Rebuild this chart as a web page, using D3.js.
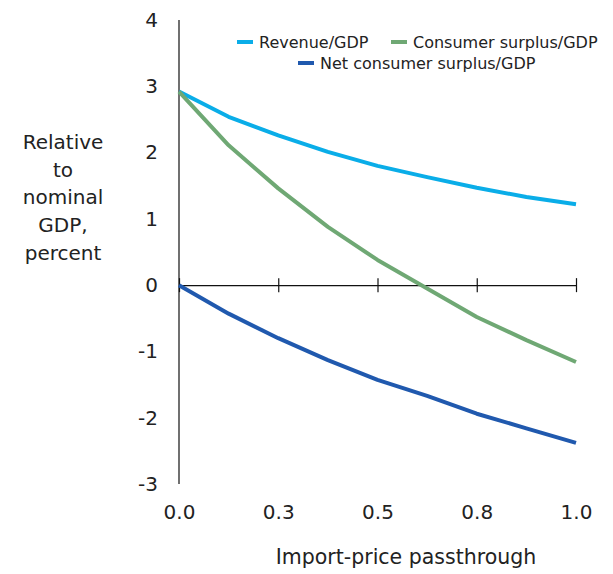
<!DOCTYPE html>
<html>
<head>
<meta charset="utf-8">
<script src="https://cdn.jsdelivr.net/npm/d3@7"></script>
<style>
  html, body { margin: 0; padding: 0; background: #fff; }
  text { font-family: "DejaVu Sans", sans-serif; fill: #222; }
</style>
</head>
<body>
<svg id="chart" width="613" height="574"></svg>
<script>
// ---- data ----
const passthrough = [0, 0.125, 0.25, 0.375, 0.5, 0.625, 0.75, 0.875, 1.0];
const revenue = [2.92, 2.54, 2.26, 2.01, 1.80, 1.63, 1.47, 1.33, 1.22];
const consumerSurplus = [2.92, 2.11, 1.46, 0.88, 0.38, -0.05, -0.48, -0.83, -1.16];
const netConsumerSurplus = [0, -0.43, -0.80, -1.13, -1.43, -1.67, -1.94, -2.16, -2.38];
const seriesNames = ["Revenue/GDP", "Consumer surplus/GDP", "Net consumer surplus/GDP"];
const seriesColors = ["#0AADE8", "#6FA874", "#2059AE"];
const xTickValues = [0, 0.25, 0.5, 0.75, 1.0];
const xTickLabels = ["0.0", "0.3", "0.5", "0.8", "1.0"];
const yTickValues = [-3, -2, -1, 0, 1, 2, 3, 4];
const yTitleLines = ["Relative", "to", "nominal", "GDP,", "percent"];
const xTitle = "Import-price passthrough";

const svg = d3.select("#chart");
const x = d3.scaleLinear().domain([0, 1]).range([179, 576]);
const y = d3.scaleLinear().domain([-3, 4]).range([484, 20]);

// y axis line
svg.append("line")
  .attr("x1", x(0)).attr("x2", x(0))
  .attr("y1", y(4)).attr("y2", y(-3))
  .attr("stroke", "#111").attr("stroke-width", 1.2);

// y tick labels (hyphen minus as in the reference)
const yAxis = d3.axisLeft(y).tickValues(yTickValues).tickSize(0).tickPadding(21)
  .tickFormat(d => String(d));
const gy = svg.append("g").attr("transform", `translate(${x(0)},0)`).call(yAxis);
gy.select(".domain").remove();
gy.selectAll("text").style("font-size", "20px").attr("fill", "#222")
  .attr("font-family", "DejaVu Sans, sans-serif");

// x axis at zero with crossing ticks
const xAxis = d3.axisBottom(x).tickValues(xTickValues).tickSize(0).tickFormat("");
const gx = svg.append("g").attr("transform", `translate(0,${y(0)})`).call(xAxis);
gx.select(".domain").attr("stroke", "#111").attr("stroke-width", 1.2);
gx.selectAll(".tick line").attr("y1", -7).attr("y2", 7).attr("stroke", "#111").attr("stroke-width", 1.2);

// x tick labels at bottom
const xLab = d3.axisBottom(x).tickValues(xTickValues).tickSize(0).tickPadding(0)
  .tickFormat((d, i) => xTickLabels[i]);
const gxl = svg.append("g").attr("transform", `translate(0,505)`).call(xLab);
gxl.select(".domain").remove();
gxl.selectAll("text").style("font-size", "20px").attr("fill", "#222")
  .attr("font-family", "DejaVu Sans, sans-serif").attr("dy", "0.71em");

// lines
const allSeries = [revenue, consumerSurplus, netConsumerSurplus];
const line = d3.line().x((d, i) => x(passthrough[i])).y(d => y(d));
allSeries.forEach((s, k) => {
  svg.append("path")
    .datum(s)
    .attr("d", line)
    .attr("fill", "none")
    .attr("stroke", seriesColors[k])
    .attr("stroke-width", 4)
    .attr("stroke-linejoin", "round");
});

// y title
const yt = svg.append("text").attr("text-anchor", "middle").style("font-size", "20px");
yTitleLines.forEach((t, i) => {
  yt.append("tspan").attr("x", 63).attr("y", 149 + i * 27.7).text(t);
});

// x title
svg.append("text").attr("x", 406).attr("y", 564).attr("text-anchor", "middle")
  .style("font-size", "20.5px").text(xTitle);

// legend
const legendPos = [
  { sx: 237, ty: 42 },
  { sx: 391, ty: 42 },
  { sx: 298, ty: 63 }
];
legendPos.forEach((p, k) => {
  svg.append("line")
    .attr("x1", p.sx).attr("x2", p.sx + 16)
    .attr("y1", p.ty).attr("y2", p.ty)
    .attr("stroke", seriesColors[k]).attr("stroke-width", 4);
  svg.append("text")
    .attr("x", p.sx + 22).attr("y", p.ty + 6)
    .style("font-size", "16px").attr("fill", "#333")
    .text(seriesNames[k]);
});
</script>
</body>
</html>
